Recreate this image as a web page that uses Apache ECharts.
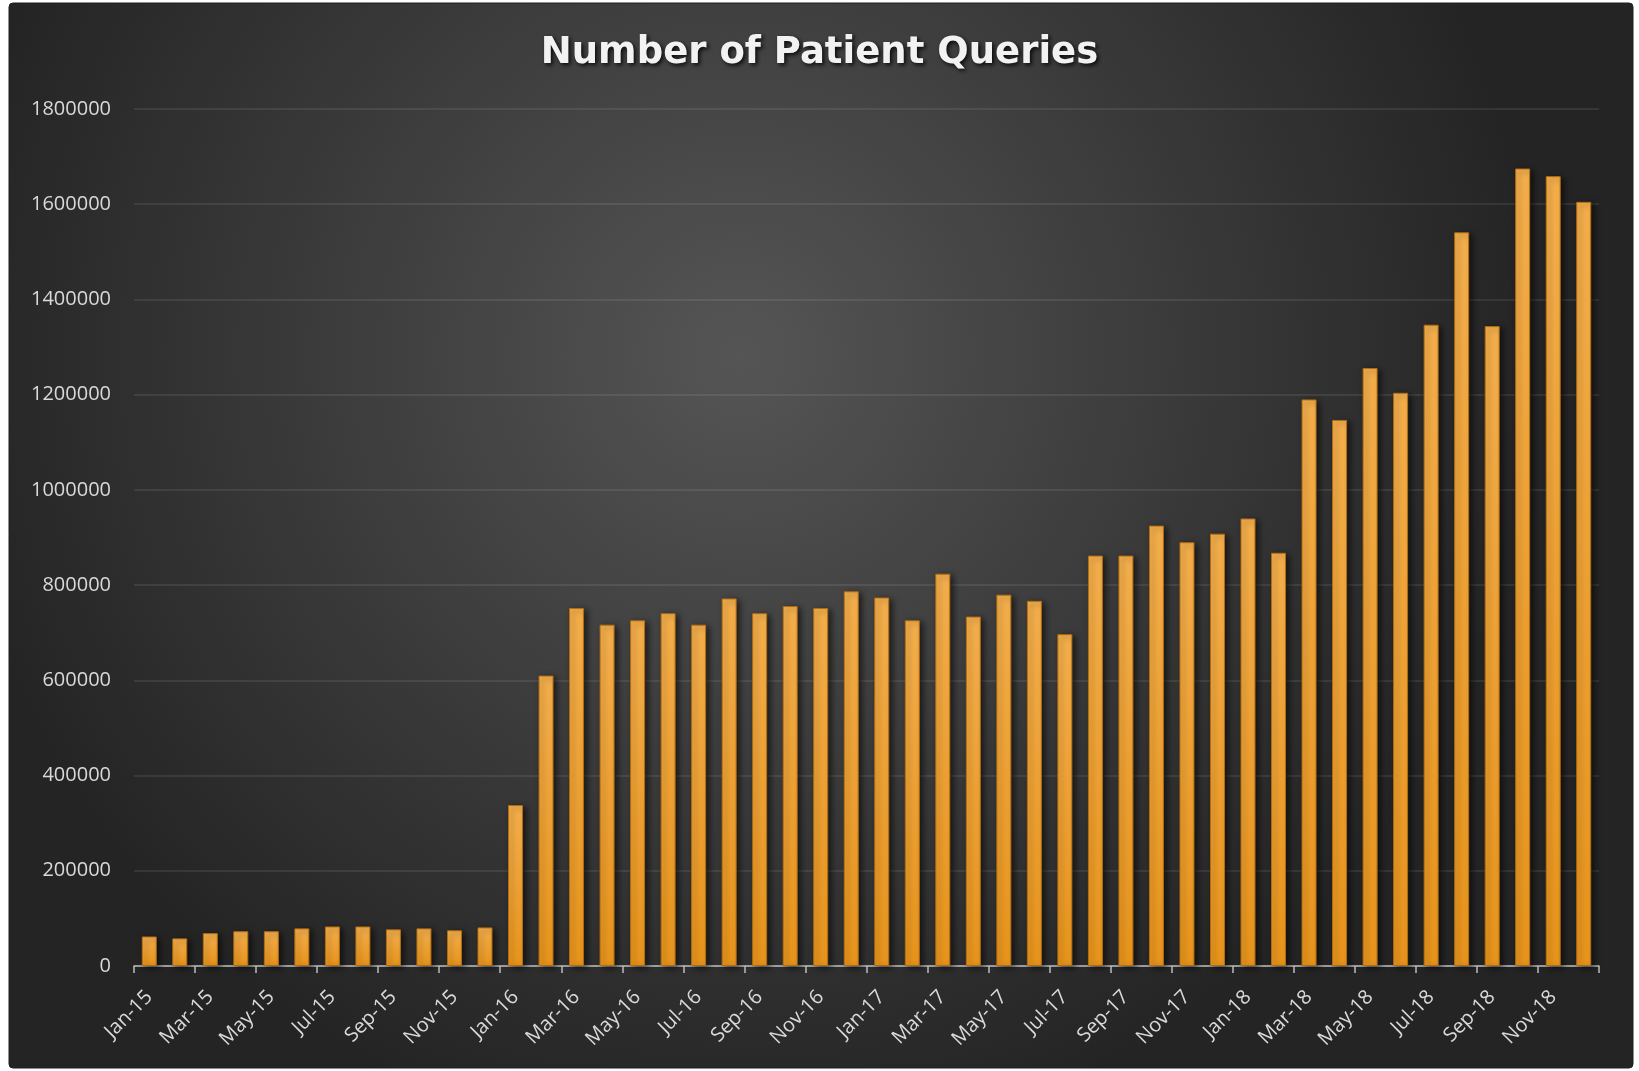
<!DOCTYPE html>
<html>
<head>
<meta charset="utf-8">
<script src="https://cdn.jsdelivr.net/npm/echarts@6/dist/echarts.min.js"></script>
<style>
html,body{margin:0;padding:0;background:#ffffff;}
#chart{width:1639px;height:1071px;}
</style>
</head>
<body>
<div id="chart"></div>
<script>
const titleText = 'Number of Patient Queries';
const months = ['Jan','Feb','Mar','Apr','May','Jun','Jul','Aug','Sep','Oct','Nov','Dec'];
const years = ['15','16','17','18'];
const categories = [];
years.forEach(y => months.forEach(m => categories.push(m + '-' + y)));

const values2015 = [62000, 58000, 69000, 73000, 73000, 79000, 83000, 83000, 77000, 79000, 75000, 81000];
const values2016 = [338000, 610000, 752000, 717000, 726000, 741000, 717000, 772000, 741000, 756000, 752000, 787000];
const values2017 = [774000, 726000, 824000, 734000, 780000, 767000, 697000, 862000, 862000, 925000, 890000, 908000];
const values2018 = [940000, 868000, 1190000, 1147000, 1256000, 1204000, 1347000, 1541000, 1344000, 1675000, 1659000, 1605000];
const values = [].concat(values2015, values2016, values2017, values2018);

const yMin = 0, yMax = 1800000, yStep = 200000;

const chart = echarts.init(document.getElementById('chart'), null, {renderer: 'canvas'});
chart.setOption({
  animation: false,
  backgroundColor: '#ffffff',
  graphic: [{
    type: 'rect',
    z: -100,
    silent: true,
    shape: {x: 9, y: 3, width: 1624, height: 1065, r: 4},
    style: {
      fill: {
        type: 'radial', x: 0.45, y: 0.33, r: 0.75,
        colorStops: [
          {offset: 0, color: '#555555'},
          {offset: 0.55, color: '#3a3a3a'},
          {offset: 1, color: '#242424'}
        ]
      },
      stroke: '#1e1e1e', lineWidth: 1
    }
  }],
  title: {
    text: titleText,
    left: 'center',
    top: 30,
    textStyle: {
      fontFamily: 'DejaVu Sans',
      fontWeight: 'bold',
      fontSize: 37,
      color: '#f2f2f2',
      textShadowColor: 'rgba(0,0,0,0.85)',
      textShadowBlur: 4,
      textShadowOffsetX: 2,
      textShadowOffsetY: 2
    }
  },
  grid: {left: 134, right: 40, top: 109, bottom: 105, containLabel: false},
  xAxis: {
    type: 'category',
    data: categories,
    boundaryGap: true,
    axisLine: {lineStyle: {color: '#bfbfbf', width: 1.5}},
    axisTick: {show: true, interval: 1, length: 7, lineStyle: {color: '#bfbfbf', width: 1.5}},
    axisLabel: {
      interval: 1,
      rotate: 45,
      margin: 28,
      color: '#d9d9d9',
      fontFamily: 'Open Sans',
      fontSize: 20
    }
  },
  yAxis: {
    type: 'value',
    min: yMin, max: yMax, interval: yStep,
    axisLine: {show: false},
    axisTick: {show: false},
    splitLine: {lineStyle: {color: 'rgba(255,255,255,0.11)', width: 1.5}},
    axisLabel: {
      formatter: v => String(v),
      margin: 23,
      color: '#d9d9d9',
      fontFamily: 'Open Sans',
      fontSize: 20
    }
  },
  series: [{
    type: 'bar',
    data: values,
    barWidth: 15,
    itemStyle: {
      color: {
        type: 'linear', x: 0, y: 0, x2: 0, y2: 1,
        colorStops: [
          {offset: 0, color: '#f6b04d'},
          {offset: 1, color: '#ea961c'}
        ]
      },
      borderColor: '#b36d10',
      borderWidth: 1,
      shadowColor: 'rgba(0,0,0,0.6)',
      shadowBlur: 6,
      shadowOffsetX: 3,
      shadowOffsetY: 2
    }
  }]
});
</script>
</body>
</html>
